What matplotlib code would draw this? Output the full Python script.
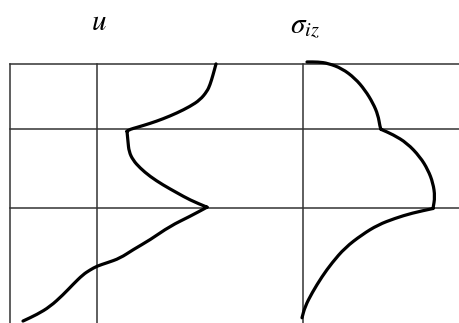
import matplotlib
matplotlib.use("Agg")
import matplotlib.pyplot as plt
from matplotlib.path import Path
from matplotlib.patches import PathPatch

plt.rcParams["mathtext.fontset"] = "stix"

# layer boundaries (depth)
layer_z = [0.0, 1.0, 2.2]
z_bottom = 3.96

# displacement profile u(z), kinks at the layer interfaces
u_val = [1.19, 1.16, 1.13, 1.10, 1.03, 0.93, 0.80, 0.66, 0.53, 0.40, 0.33, 0.30,
         0.31, 0.32, 0.36, 0.43, 0.53, 0.66, 0.80, 0.93, 1.10,
         0.93, 0.73, 0.53, 0.36, 0.23, 0.10, 0.00, -0.07, -0.14, -0.24, -0.34,
         -0.47, -0.60, -0.74]
u_z = [0.00, 0.17, 0.32, 0.42, 0.55, 0.65, 0.75, 0.84, 0.91, 0.97, 1.00, 1.03,
       1.19, 1.34, 1.47, 1.59, 1.72, 1.85, 1.97, 2.08, 2.19,
       2.33, 2.48, 2.69, 2.84, 2.97, 3.04, 3.09, 3.15, 3.22, 3.37, 3.53,
       3.71, 3.83, 3.93]
u_kinks = [11, 20]

# stress profile sigma_iz(z)
s_val = [0.04, 0.15, 0.25, 0.39, 0.52, 0.62, 0.70, 0.75, 0.77, 0.78,
         0.90, 1.04, 1.17, 1.25, 1.30, 1.32, 1.30,
         1.09, 0.92, 0.75, 0.59, 0.42, 0.29, 0.19, 0.09, 0.02, -0.01]
s_z = [-0.03, -0.03, -0.01, 0.07, 0.22, 0.40, 0.60, 0.78, 0.96, 1.00,
       1.08, 1.21, 1.42, 1.62, 1.82, 2.03, 2.21,
       2.28, 2.36, 2.46, 2.61, 2.81, 3.04, 3.25, 3.50, 3.71, 3.88]
s_kinks = [9, 16]

s_offset = 2.06   # horizontal origin of the sigma panel
x_left = -0.87
x_right = 3.63


def smooth_segments(xs, zs, kinks):
    """Quadratic midpoint smoothing, kept sharp at the kink points."""
    verts, codes = [], []
    bounds = [0] + kinks + [len(xs) - 1]
    for a, b in zip(bounds[:-1], bounds[1:]):
        pts = list(zip(xs[a:b + 1], zs[a:b + 1]))
        verts.append(pts[0]); codes.append(Path.MOVETO)
        for i in range(1, len(pts) - 1):
            m = ((pts[i][0] + pts[i + 1][0]) / 2, (pts[i][1] + pts[i + 1][1]) / 2)
            if i == 1:
                m0 = ((pts[0][0] + pts[1][0]) / 2, (pts[0][1] + pts[1][1]) / 2)
                verts.append(m0); codes.append(Path.LINETO)
            verts += [pts[i], m]; codes += [Path.CURVE3, Path.CURVE3]
        verts.append(pts[-1]); codes.append(Path.LINETO)
    return Path(verts, codes)


fig = plt.figure(figsize=(4.6, 3.23), dpi=100)
ax = fig.add_axes([0, 0, 1, 1])
ax.set_xlim(-0.97, 3.63)
ax.set_ylim(z_bottom, -0.977)
ax.axis("off")

grid_kw = dict(color="#333333", lw=1.1, zorder=1)
for z in layer_z:
    ax.plot([x_left, x_right], [z, z], **grid_kw)
for x in [x_left, 0.0, s_offset]:
    ax.plot([x, x], [0, z_bottom], **grid_kw)

curve_kw = dict(facecolor="none", edgecolor="black", lw=2.3,
                capstyle="round", joinstyle="round", zorder=3)
ax.add_patch(PathPatch(smooth_segments(u_val, u_z, u_kinks), **curve_kw))
ax.add_patch(PathPatch(smooth_segments([s_offset + s for s in s_val], s_z,
                                       s_kinks), **curve_kw))

ax.text(0.02, -0.64, r"$u$", fontsize=21, ha="center", va="center")
ax.text(s_offset + 0.02, -0.57, r"$\sigma_{iz}$", fontsize=21,
        ha="center", va="center")

fig.savefig("out.png", dpi=100)
